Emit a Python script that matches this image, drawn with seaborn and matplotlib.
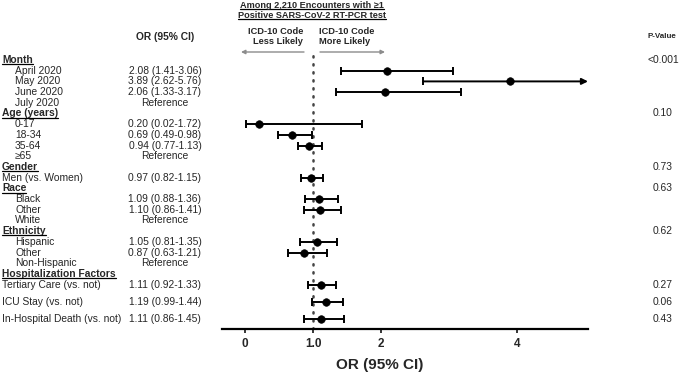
import numpy as np
import pandas as pd
import seaborn as sns
import matplotlib.pyplot as plt
from matplotlib import transforms
from matplotlib.lines import Line2D

# table rows, top to bottom ('h' = group header, 's' = indented sub-item, 'r' = plain row)
labels = ["Month", "April 2020", "May 2020", "June 2020", "July 2020",
          "Age (years)", "0-17", "18-34", "35-64", "≥65",
          "Gender", "Men (vs. Women)",
          "Race", "Black", "Other", "White",
          "Ethnicity", "Hispanic", "Other", "Non-Hispanic",
          "Hospitalization Factors", "Tertiary Care (vs. not)",
          "ICU Stay (vs. not)", "In-Hospital Death (vs. not)"]
kind = ["h", "s", "s", "s", "s",
        "h", "s", "s", "s", "s",
        "h", "r",
        "h", "s", "s", "s",
        "h", "s", "s", "s",
        "h", "r", "r", "r"]
is_ref = [False, False, False, False, True,
          False, False, False, False, True,
          False, False,
          False, False, False, True,
          False, False, False, True,
          False, False, False, False]
nan = np.nan
odds = [nan, 2.08, 3.89, 2.06, nan,
        nan, 0.20, 0.69, 0.94, nan,
        nan, 0.97,
        nan, 1.09, 1.10, nan,
        nan, 1.05, 0.87, nan,
        nan, 1.11, 1.19, 1.11]
lower = [nan, 1.41, 2.62, 1.33, nan,
         nan, 0.02, 0.49, 0.77, nan,
         nan, 0.82,
         nan, 0.88, 0.86, nan,
         nan, 0.81, 0.63, nan,
         nan, 0.92, 0.99, 0.86]
upper = [nan, 3.06, 5.76, 3.17, nan,
         nan, 1.72, 0.98, 1.13, nan,
         nan, 1.15,
         nan, 1.36, 1.41, nan,
         nan, 1.35, 1.21, nan,
         nan, 1.33, 1.44, 1.45]
p_values = ["<0.001", "", "", "", "",
            "0.10", "", "", "", "",
            "0.73", "",
            "0.63", "", "", "",
            "0.62", "", "", "",
            "", "0.27", "0.06", "0.43"]
tick_vals = [0, 1, 2, 4]
tick_labels = ["0", "1.0", "2", "4"]

df = pd.DataFrame({"label": labels, "kind": kind, "ref": is_ref,
                   "odds": odds, "lower": lower, "upper": upper, "p": p_values})
# hospitalization rows are spread a bit wider
step = np.where(np.arange(len(df)) > 21, 1.6, 1.0)
step[0] = 0
df["pos"] = np.cumsum(step)

sns.set_style("white")
plt.rcParams['font.family'] = ['Liberation Sans', 'DejaVu Sans']

W, H = 685, 378
fig = plt.figure(figsize=(W / 100, H / 100), dpi=100)
ax = fig.add_axes([222 / W, 1 - 329 / H, (588 - 222) / W, (329 - 52) / H])

xmin, xmax = -0.34, 5.04
ax.axvline(1, ls=(0, (0.5, 2.7)), lw=1.8, color="#444444", dash_capstyle="round", zorder=1)

est = df.dropna(subset=["odds"])
inside = est[est["upper"] <= xmax]
ax.errorbar(inside["odds"], inside["pos"],
            xerr=[inside["odds"] - inside["lower"], inside["upper"] - inside["odds"]],
            fmt="none", ecolor="black", elinewidth=1.4, capsize=2.6, capthick=1.4, zorder=2)
# CIs running off the right edge get an arrow
for _, r in est[est["upper"] > xmax].iterrows():
    ax.annotate("", xy=(xmax, r["pos"]), xytext=(r["lower"], r["pos"]),
                arrowprops=dict(arrowstyle="-|>", color="black", lw=1.4,
                                mutation_scale=9, shrinkA=0, shrinkB=0))
    ax.plot(r["lower"], r["pos"], marker="|", ms=5.2, mew=1.4, color="black")

sns.scatterplot(data=est, x="odds", y="pos", color="black", s=30,
                edgecolor="black", legend=False, ax=ax, zorder=3)

ax.set_xlim(xmin, xmax)
ax.set_ylim((329 - 60) / 10.7, -(60 - 52) / 10.7)
ax.set_xlabel("")
ax.set_ylabel("")
ax.set_yticks([])
ax.set_xticks(tick_vals)
ax.set_xticklabels(tick_labels, fontweight="bold", fontsize=8.5)
ax.tick_params(axis="x", direction="out", length=3, width=1.3, pad=3.5, bottom=True)
for side in ["top", "right", "left"]:
    ax.spines[side].set_visible(False)
ax.spines["bottom"].set_linewidth(1.6)
ax.spines["bottom"].set_color("black")
ax.patch.set_alpha(0)

# left-hand table
trans = transforms.blended_transform_factory(fig.transFigure, ax.transData)
underlined = []
for _, r in df.iterrows():
    x0 = 15 if r["kind"] == "s" else 2
    t = ax.text(x0 / W, r["pos"], r["label"], transform=trans, ha="left", va="center",
                fontsize=7.4, fontweight="bold" if r["kind"] == "h" else "normal")
    if r["kind"] == "h":
        underlined.append(t)
    if r["ref"]:
        ax.text(165 / W, r["pos"], "Reference", transform=trans, ha="center", va="center", fontsize=7.4)
    elif not np.isnan(r["odds"]):
        ax.text(165 / W, r["pos"], f"{r['odds']:.2f} ({r['lower']:.2f}-{r['upper']:.2f})",
                transform=trans, ha="center", va="center", fontsize=7.4)
    if r["p"]:
        ax.text(663 / W, r["pos"], r["p"], transform=trans, ha="center", va="center", fontsize=7.4)

fig.text(165 / W, 1 - 37 / H, "OR (95% CI)", ha="center", va="center", fontsize=7.4, fontweight="bold")
fig.text(662 / W, 1 - 37 / H, "P-Value", ha="center", va="center", fontsize=5.8, fontweight="bold")

for y, s in [(5, "Among 2,210 Encounters with ≥1"), (15, "Positive SARS-CoV-2 RT-PCR test")]:
    underlined.append(fig.text(312 / W, 1 - y / H, s, ha="center", va="center",
                               fontsize=6.6, fontweight="bold"))

fig.text(303 / W, 1 - 31 / H, "ICD-10 Code", ha="right", va="center", fontsize=6.7, fontweight="bold")
fig.text(303 / W, 1 - 42 / H, "Less Likely", ha="right", va="center", fontsize=6.7, fontweight="bold")
fig.text(319 / W, 1 - 31 / H, "ICD-10 Code", ha="left", va="center", fontsize=6.7, fontweight="bold")
fig.text(319 / W, 1 - 42 / H, "More Likely", ha="left", va="center", fontsize=6.7, fontweight="bold")
for a, b in [(304, 241), (320, 385)]:
    ax.annotate("", xy=(b / W, 1 - 52 / H), xytext=(a / W, 1 - 52 / H), xycoords="figure fraction",
                arrowprops=dict(arrowstyle="-|>", color="#8c8c8c", lw=1, mutation_scale=6,
                                shrinkA=0, shrinkB=0))

fig.text(380 / W, 1 - 365 / H, "OR (95% CI)", ha="center", va="center", fontsize=11, fontweight="bold")

# underline the group headers and the title
fig.canvas.draw()
renderer = fig.canvas.get_renderer()
for t in underlined:
    bb = t.get_window_extent(renderer)
    yy = (bb.y0 + 0.8) / H
    fig.add_artist(Line2D([bb.x0 / W, bb.x1 / W], [yy, yy], transform=fig.transFigure,
                          color="black", lw=0.9))

fig.savefig("out.png", dpi=100, facecolor="white")
